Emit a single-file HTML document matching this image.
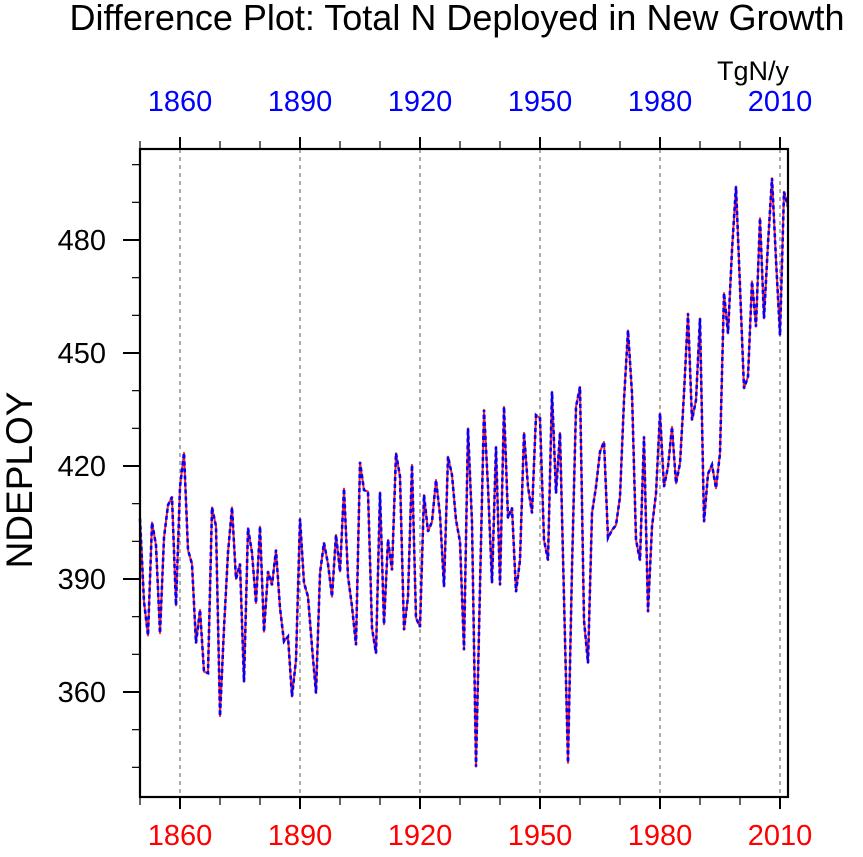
<!DOCTYPE html>
<html><head><meta charset="utf-8"><style>
html,body{margin:0;padding:0;background:#fff;}
svg{display:block;font-family:"Liberation Sans",Arial,sans-serif;}
</style></head><body>
<svg id="chart" width="863" height="857" viewBox="0 0 863 857" xmlns="http://www.w3.org/2000/svg">
<text x="457" y="30" font-size="36" text-anchor="middle">Difference Plot: Total N Deployed in New Growth</text>
<text x="753" y="80" font-size="27" text-anchor="middle">TgN/y</text>
<text x="0" y="0" font-size="37" text-anchor="middle" transform="translate(32,480) rotate(-90)">NDEPLOY</text>
<g id="grid"></g><g id="ticks"></g><g id="series"></g>
<rect x="140" y="149" width="648" height="648" fill="none" stroke="#000" stroke-width="2.2"/>
</svg>
<script>
const startYear = 1850;
const values = [406,384,375,405,399,375.6,401,409.6,411.8,383,414.5,423.5,397.7,394,373,381.8,365.4,365,409,404,353.6,377,397,409,390,394,362.7,403.5,397,383.6,403.9,376,392,388.4,397.7,382.3,373.4,374.7,358.8,368.5,406,389,385.3,372,359.7,391.6,399.6,394,385.3,401.7,392,414,390.6,382.7,372.5,421,413.6,413.2,377,370.3,413,378,400.4,392.4,423.4,417.2,376.5,385.3,420.3,379.7,377.3,412.3,402.6,405.2,416.3,407,388,422.5,417.6,405.7,399.9,371.2,430,405,340.2,388,434.9,414.5,389,425.1,388.4,435.7,406.2,408.9,386.6,395,428.8,414.5,407.5,433.5,432.7,400.4,395,439.7,412.8,428.8,385,341.2,393,435.7,441,379,367.7,407.5,414.5,423.8,426.4,400.9,403,404.3,411.8,437.5,456,439.3,400.4,395,427.8,381.3,403.9,412.7,434,414.5,419.8,430.4,415.4,420.7,439.3,460.5,432.2,437.5,459.2,405.2,417.9,420.3,414.1,423.4,465.9,455.2,477.3,494.2,467.6,440.6,443.7,469,457,485.8,459.2,479.1,496.4,474.7,454.7,492.8,488.8];
const yTickValues = [360,390,420,450,480];
const xTickYears = [1860,1890,1920,1950,1980,2010];

const L=140,R=788,T=149,B=797;
function xs(yr){return L+(yr-1850)*4;}
function ys(v){return 240+(480-v)*(452/120);}
const NS="http://www.w3.org/2000/svg";
function mk(tag,attrs,parent){const e=document.createElementNS(NS,tag);for(const k in attrs)e.setAttribute(k,attrs[k]);parent.appendChild(e);return e;}
const grid=document.getElementById('grid'),ticks=document.getElementById('ticks'),series=document.getElementById('series');
for(const yr of xTickYears){
  const x=xs(yr);
  const g=mk('line',{x1:x,y1:T,x2:x,y2:B,stroke:'#777','stroke-width':1.2,'stroke-dasharray':'4,4'},grid);
  
  
  const t1=mk('text',{x:x,y:845,'font-size':29,fill:'#f00','text-anchor':'middle'},ticks);t1.textContent=yr;
  
  
  const t2=mk('text',{x:x,y:111,'font-size':29,fill:'#00f','text-anchor':'middle'},ticks);t2.textContent=yr;
  
  
}
for(let yr=1850;yr<=2012;yr+=10){
  const x=xs(yr);const major=xTickYears.includes(yr);const len=major?12:8;
  const a=mk('line',{x1:x,y1:B,x2:x,y2:B+len,stroke:'#000','stroke-width':major?2:1.2},ticks);
  
  
  const b=mk('line',{x1:x,y1:T,x2:x,y2:T-len,stroke:'#000','stroke-width':major?2:1.2},ticks);
  
  
}
for(let v=340;v<=500;v+=10){
  const y=ys(v);const major=yTickValues.includes(v);const len=major?17:8;
  const a=mk('line',{x1:L,y1:y,x2:L-len,y2:y,stroke:'#000','stroke-width':major?2:1.2},ticks);
  
  
  if(major){const t=mk('text',{x:106,y:y+10,'font-size':29,'text-anchor':'end'},ticks);t.textContent=v;
  
  }
}
const pts=values.map((v,i)=>xs(startYear+i).toFixed(2)+','+ys(v).toFixed(2)).join(' ');
const red=mk('polyline',{points:pts,fill:'none',stroke:'#ff2020','stroke-width':2,'stroke-linejoin':'round'},series);


const blue=mk('polyline',{points:pts,fill:'none',stroke:'#0000ff','stroke-width':2.6,'stroke-dasharray':'4,3'},series);


</script>
</body></html>
